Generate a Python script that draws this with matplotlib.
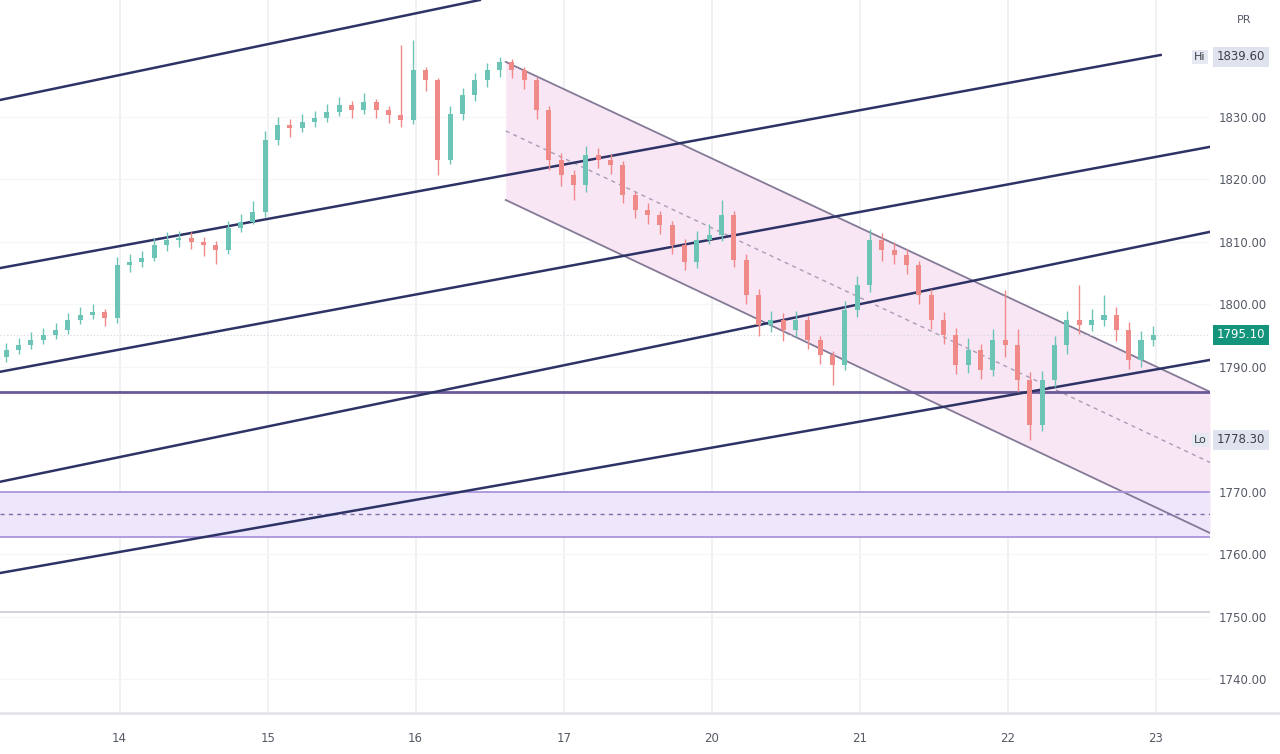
import matplotlib.pyplot as plt
import numpy as np

# price data (2h bars)
closes = [1792.7, 1793.5, 1794.3, 1795.1, 1795.9, 1797.5, 1798.3, 1798.8, 1797.8,
          1806.3, 1806.8, 1807.4, 1809.5, 1810.3, 1810.6, 1810.0, 1809.5, 1808.7, 1812.2, 1813.2, 1814.8,
          1826.3, 1828.7, 1828.2, 1829.2, 1829.8, 1830.8, 1831.9, 1831.1, 1832.4, 1831.1, 1830.3, 1829.5,
          1837.5, 1835.9, 1823.1, 1830.5, 1833.5, 1835.9, 1837.5, 1838.8, 1837.5, 1835.9, 1831.1, 1823.1,
          1820.7, 1819.1, 1823.9, 1823.1, 1822.3, 1817.5, 1815.1, 1814.3, 1812.7, 1809.5, 1806.8, 1810.3,
          1811.1, 1814.3, 1807.1, 1801.5, 1796.7, 1797.5, 1795.9, 1797.5, 1794.3, 1791.9, 1790.3, 1799.1,
          1803.1, 1810.3, 1808.7, 1807.9, 1806.3, 1801.5, 1797.5, 1795.1, 1790.3, 1792.7, 1789.5, 1794.3,
          1793.5, 1787.9, 1780.7, 1787.9, 1793.5, 1797.5, 1796.7, 1797.5, 1798.3, 1795.9, 1791.1, 1794.3,
          1795.1]
opens = [1791.5] + closes[:-1]
highs = [1793.8, 1794.6, 1795.5, 1796.2, 1797.0, 1798.6, 1799.5, 1800.0, 1799.2,
         1807.5, 1808.0, 1808.6, 1810.6, 1811.5, 1811.8, 1811.5, 1810.8, 1810.2, 1813.4, 1814.5, 1816.5,
         1827.8, 1830.0, 1829.6, 1830.4, 1831.0, 1832.0, 1833.2, 1832.6, 1833.8, 1832.8, 1831.8, 1841.5,
         1842.3, 1838.0, 1836.2, 1831.8, 1834.6, 1837.0, 1838.6, 1839.6, 1839.2, 1838.0, 1836.4, 1831.8,
         1824.2, 1821.5, 1825.4, 1825.0, 1824.0, 1823.0, 1818.0, 1816.2, 1815.0, 1813.4, 1810.4, 1811.8,
         1812.8, 1816.7, 1815.0, 1808.0, 1802.4, 1799.0, 1798.6, 1799.0, 1798.2, 1795.0, 1792.5, 1800.6,
         1804.6, 1812.0, 1811.4, 1810.0, 1808.8, 1807.0, 1802.5, 1798.8, 1796.2, 1794.6, 1793.6, 1796.0,
         1802.3, 1796.0, 1789.2, 1789.4, 1795.0, 1799.0, 1803.1, 1799.2, 1801.5, 1799.5, 1797.2, 1795.8,
         1796.6]
lows = [1790.8, 1792.0, 1792.8, 1793.6, 1794.5, 1795.2, 1796.8, 1797.6, 1796.5,
        1797.0, 1805.2, 1806.0, 1806.9, 1808.6, 1809.2, 1808.8, 1807.8, 1806.5, 1808.0, 1811.6, 1812.8,
        1814.0, 1825.5, 1826.8, 1827.6, 1828.4, 1829.2, 1830.2, 1829.8, 1830.4, 1829.8, 1829.0, 1828.4,
        1828.8, 1834.2, 1820.7, 1822.5, 1829.5, 1832.5, 1834.8, 1836.4, 1836.2, 1834.5, 1829.6, 1821.5,
        1819.0, 1816.7, 1818.0, 1821.8, 1820.8, 1816.2, 1813.8, 1812.9, 1811.2, 1808.0, 1805.5, 1805.8,
        1809.6, 1810.2, 1806.0, 1800.0, 1795.0, 1795.5, 1794.2, 1794.8, 1792.8, 1790.4, 1787.1, 1789.5,
        1798.0, 1802.0, 1807.0, 1806.4, 1804.8, 1800.0, 1796.0, 1793.6, 1788.8, 1789.0, 1788.0, 1788.5,
        1791.6, 1786.0, 1778.3, 1779.8, 1786.8, 1792.0, 1795.2, 1795.8, 1796.5, 1794.2, 1789.6, 1790.0,
        1793.4]

day_ticks = [9.2, 21.2, 33.2, 45.2, 57.2, 69.2, 81.2, 93.2]
day_labels = ['14', '15', '16', '17', '20', '21', '22', '23']
price_ticks = [1830, 1820, 1810, 1800, 1790, 1770, 1760, 1750, 1740]

# drawn trend lines: (x0, p0, x1, p1)
rising_lines = [(-0.5, 1832.7, 38.4, 1848.7),
                (-0.5, 1805.8, 93.6, 1839.9),
                (-0.5, 1789.2, 97.6, 1825.2),
                (-0.5, 1771.6, 97.6, 1811.6),
                (-0.5, 1757.0, 97.6, 1791.1)]
chan_top = (40.5, 1838.8, 97.6, 1786.0)
chan_bot = (40.5, 1816.7, 97.6, 1763.4)
support = 1786.0
zone = (1762.8, 1770.0)
pane_line = 1750.8
hi_val, lo_val, last_val = 1839.6, 1778.3, 1795.1

fig = plt.figure(figsize=(12.8, 7.54), dpi=100)
ax = fig.add_axes([0, 0.0544, 0.9453, 0.9456])
ax.set_xlim(-0.5, 97.6)
ax.set_ylim(1734.6, 1848.7)

# grid
for t in day_ticks:
    ax.axvline(t, color='#eeeff3', lw=1.2, zorder=0)
for p in price_ticks:
    ax.axhline(p, color='#f5f6f8', lw=1, zorder=0)

# channel
cx = np.array([chan_top[0], chan_top[2]])
ax.fill_between(cx, [chan_bot[1], chan_bot[3]], [chan_top[1], chan_top[3]],
                color='#f8e6f4', zorder=1, lw=0)
ax.plot(cx, [chan_top[1], chan_top[3]], color='#847a98', lw=1.3, zorder=2)
ax.plot(cx, [chan_bot[1], chan_bot[3]], color='#847a98', lw=1.3, zorder=2)
ax.plot(cx, [(chan_top[1] + chan_bot[1]) / 2, (chan_top[3] + chan_bot[3]) / 2],
        color='#a89cb6', lw=1, ls=(0, (3, 3)), zorder=2)

# zone
ax.axhspan(zone[0], zone[1], color='#eee7fb', zorder=1, lw=0)
ax.axhline(zone[0], color='#a996dc', lw=1.3, zorder=2)
ax.axhline(zone[1], color='#a996dc', lw=1.3, zorder=2)
ax.axhline(sum(zone) / 2, color='#7d6fa8', lw=1, ls=(0, (3, 3)), zorder=2)

ax.axhline(support, color='#6a5a98', lw=2, zorder=3)
ax.axhline(pane_line, color='#c9cbd2', lw=1.2, zorder=2)
ax.axhline(last_val, color='#d3d6dc', lw=0.8, ls=(0, (1, 2)), zorder=2)

for x0, p0, x1, p1 in rising_lines:
    ax.plot([x0, x1], [p0, p1], color='#2e3366', lw=1.8, zorder=4)

# candles
x = np.arange(len(closes))
o = np.array(opens)
c = np.array(closes)
up = c >= o
cols = np.where(up, '#6cc4b6', '#f08a88')
ax.vlines(x, lows, highs, colors=cols, lw=1, zorder=5)
ax.bar(x, np.maximum(np.abs(c - o), 0.25), bottom=np.minimum(o, c), width=0.42,
       color=cols, zorder=6, lw=0)

# axes styling
for s in ax.spines.values():
    s.set_visible(False)
ax.yaxis.tick_right()
ax.set_yticks(price_ticks)
ax.set_yticklabels([f'{p:.2f}' for p in price_ticks])
ax.set_xticks(day_ticks)
ax.set_xticklabels(day_labels)
ax.tick_params(length=0, labelsize=8.5, colors='#555a66')
ax.tick_params(axis='x', pad=14)
ax.tick_params(axis='y', pad=6)
fig.add_artist(plt.Line2D([0, 1], [0.0544, 0.0544], color='#e3e5ea', lw=2))

# price labels on the axis
def tag(val, text, fc, tc):
    ax.annotate(text, xy=(1.0, val), xycoords=('axes fraction', 'data'),
                xytext=(5, 0), textcoords='offset points', ha='left', va='center',
                fontsize=8.5, color=tc,
                bbox=dict(boxstyle='square,pad=0.3', fc=fc, ec='none'), annotation_clip=False)

tag(hi_val, f'{hi_val:.2f}', '#dfe3ee', '#3a3f4c')
tag(lo_val, f'{lo_val:.2f}', '#dfe3ee', '#3a3f4c')
tag(last_val, f'{last_val:.2f}', '#15947c', 'white')
ax.text(96.3, hi_val, 'Hi', fontsize=8, color='#3a3f4c', ha='left', va='center',
        bbox=dict(boxstyle='square,pad=0.2', fc='#e6e9f1', ec='none'))
ax.text(96.3, lo_val, 'Lo', fontsize=8, color='#3a3f4c', ha='left', va='center',
        bbox=dict(boxstyle='square,pad=0.2', fc='#e6e9f1', ec='none'))
fig.text(0.972, 0.97, 'PR', fontsize=8, color='#555a66', ha='center')

fig.savefig('out.png', dpi=100)
